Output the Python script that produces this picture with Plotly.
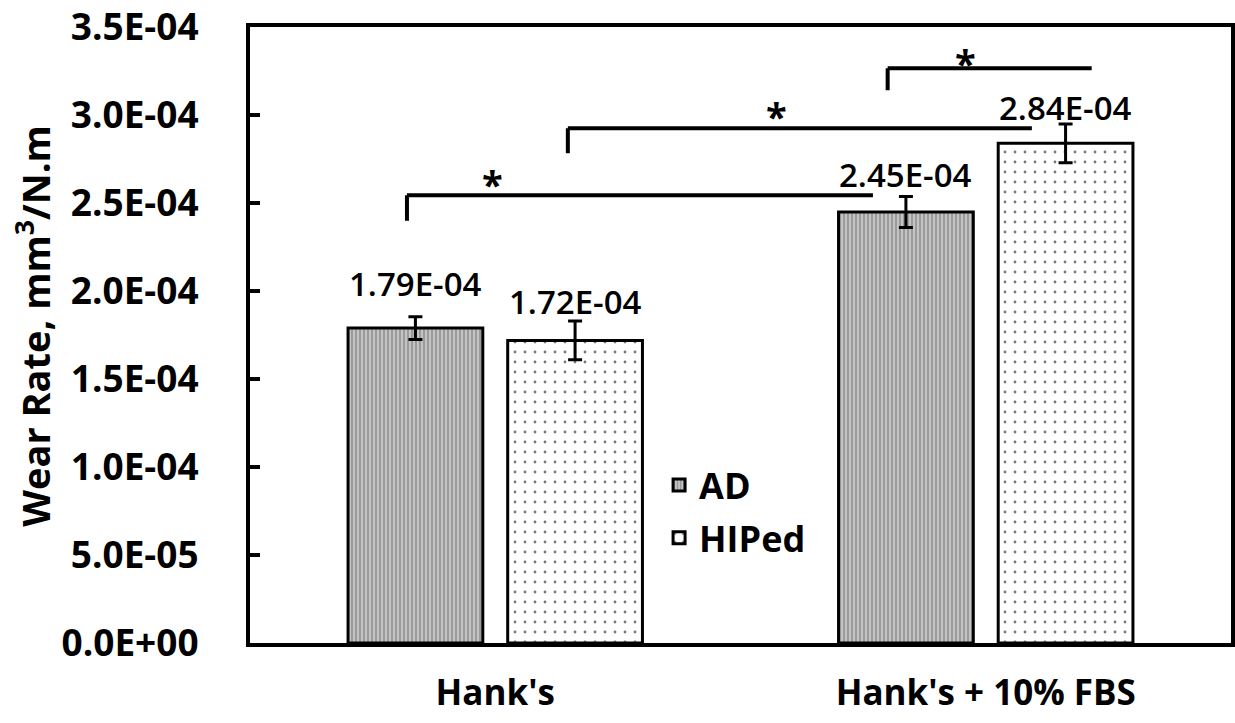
import plotly.graph_objects as go

# ---- data ----
categories = ["Hank's", "Hank's + 10% FBS"]
series_names = ["AD", "HIPed"]
ad_values = [1.79e-4, 2.45e-4]
hiped_values = [1.72e-4, 2.84e-4]
ad_err = [6.5e-6, 8.8e-6]
hiped_err = [1.1e-5, 1.1e-5]
ad_labels = ["1.79E-04", "2.45E-04"]
hiped_labels = ["1.72E-04", "2.84E-04"]
y_tickvals = [0, 5e-5, 1e-4, 1.5e-4, 2e-4, 2.5e-4, 3e-4, 3.5e-4]
y_ticktext = ["0.0E+00", "5.0E-05", "1.0E-04", "1.5E-04", "2.0E-04", "2.5E-04", "3.0E-04", "3.5E-04"]
y_title = "Wear Rate, mm<sup>3</sup>/N.m"

FONT = "Open Sans"
W, H = 1235, 723
ML, MR, MT, MB = 250, 4, 27, 80
plot_w = W - ML - MR

fig = go.Figure()
fig.add_trace(go.Bar(
    name=series_names[0], x=categories, y=ad_values, legendgroup="a",
    marker=dict(color="#bcbcbc", line=dict(color="black", width=3),
                pattern=dict(shape="|", size=4, solidity=0.35, fgcolor="#8a8a8a",
                             bgcolor="#c4c4c4", fillmode="replace")),
    error_y=dict(type="data", array=ad_err, color="black", thickness=3, width=7),
))
fig.add_trace(go.Bar(
    name=series_names[1], x=categories, y=hiped_values, legendgroup="b",
    marker=dict(color="white", line=dict(color="black", width=3),
                pattern=dict(shape=".", size=10, solidity=0.06, fgcolor="#777777",
                             bgcolor="white", fillmode="replace")),
    error_y=dict(type="data", array=hiped_err, color="black", thickness=3, width=7),
))

bargap = 0.349
bargroupgap = 0.156
cat_w = plot_w / len(categories)
bar_off = cat_w * (1 - bargap) / 4

annotations = []
# value labels above error bars
label_shift = [[33, 22], [20, 17]]
for si, (vals, errs, labs) in enumerate([(ad_values, ad_err, ad_labels),
                                          (hiped_values, hiped_err, hiped_labels)]):
    for ci, cat in enumerate(categories):
        annotations.append(dict(
            x=cat, y=vals[ci] + errs[ci], xref="x", yref="y",
            text=labs[ci], showarrow=False, xanchor="center", yanchor="middle",
            xshift=(-bar_off if si == 0 else bar_off), yshift=label_shift[si][ci],
            font=dict(family=FONT, size=33, color="black", weight=600),
        ))

# significance brackets (paper x, data y)
brackets = [
    # x0, x1, y, y_drop, x_star, y_star
    (0.160, 0.635, 2.545e-4, 2.40e-4, 0.2467, 2.66e-4),
    (0.324, 0.797, 2.926e-4, 2.784e-4, 0.537, 3.045e-4),
    (0.650, 0.858, 3.267e-4, 3.142e-4, 0.729, 3.35e-4),
]
shapes = []
for x0, x1, yb, yd, xs, ys in brackets:
    shapes.append(dict(type="line", xref="paper", yref="y", x0=x0, x1=x1, y0=yb, y1=yb,
                       line=dict(color="black", width=4)))
    shapes.append(dict(type="line", xref="paper", yref="y", x0=x0, x1=x0, y0=yb, y1=yd,
                       line=dict(color="black", width=4)))
    annotations.append(dict(x=xs, y=ys, xref="paper", yref="y", text="*", showarrow=False,
                            xanchor="center", yanchor="middle", yshift=-9,
                            font=dict(family=FONT, size=38, color="black", weight="bold")))

annotations.append(dict(
    x=(34 - ML) / plot_w, y=0.515, xref="paper", yref="paper", text=y_title,
    showarrow=False, textangle=-90, xanchor="center", yanchor="middle",
    font=dict(family=FONT, size=38, color="black", weight="bold")))

fig.update_layout(
    width=W, height=H,
    margin=dict(l=ML, r=MR, t=MT, b=MB, autoexpand=False),
    paper_bgcolor="white", plot_bgcolor="white",
    barmode="group", bargap=bargap, bargroupgap=bargroupgap,
    font=dict(family=FONT, color="black"),
    showlegend=True,
    legend=dict(x=0.417, y=0.305, xanchor="left", yanchor="top",
                bgcolor="rgba(0,0,0,0)", tracegroupgap=3,
                font=dict(family=FONT, size=36, color="black", weight="bold")),
    xaxis=dict(type="category", showline=True, linecolor="black", linewidth=4, mirror=True,
               ticks="", showgrid=False, ticklabelstandoff=16,
               tickfont=dict(family=FONT, size=35, color="black", weight="bold")),
    yaxis=dict(range=[0, 3.5015e-4], tickvals=y_tickvals, ticktext=y_ticktext,
               showline=True, linecolor="black", linewidth=4, mirror=True,
               ticks="inside", ticklen=10, tickwidth=4, tickcolor="black",
               showgrid=False, zeroline=False, ticklabelstandoff=40,
               tickfont=dict(family=FONT, size=37, color="black", weight="bold")),
    shapes=shapes, annotations=annotations,
)

fig.write_html("out.html")
